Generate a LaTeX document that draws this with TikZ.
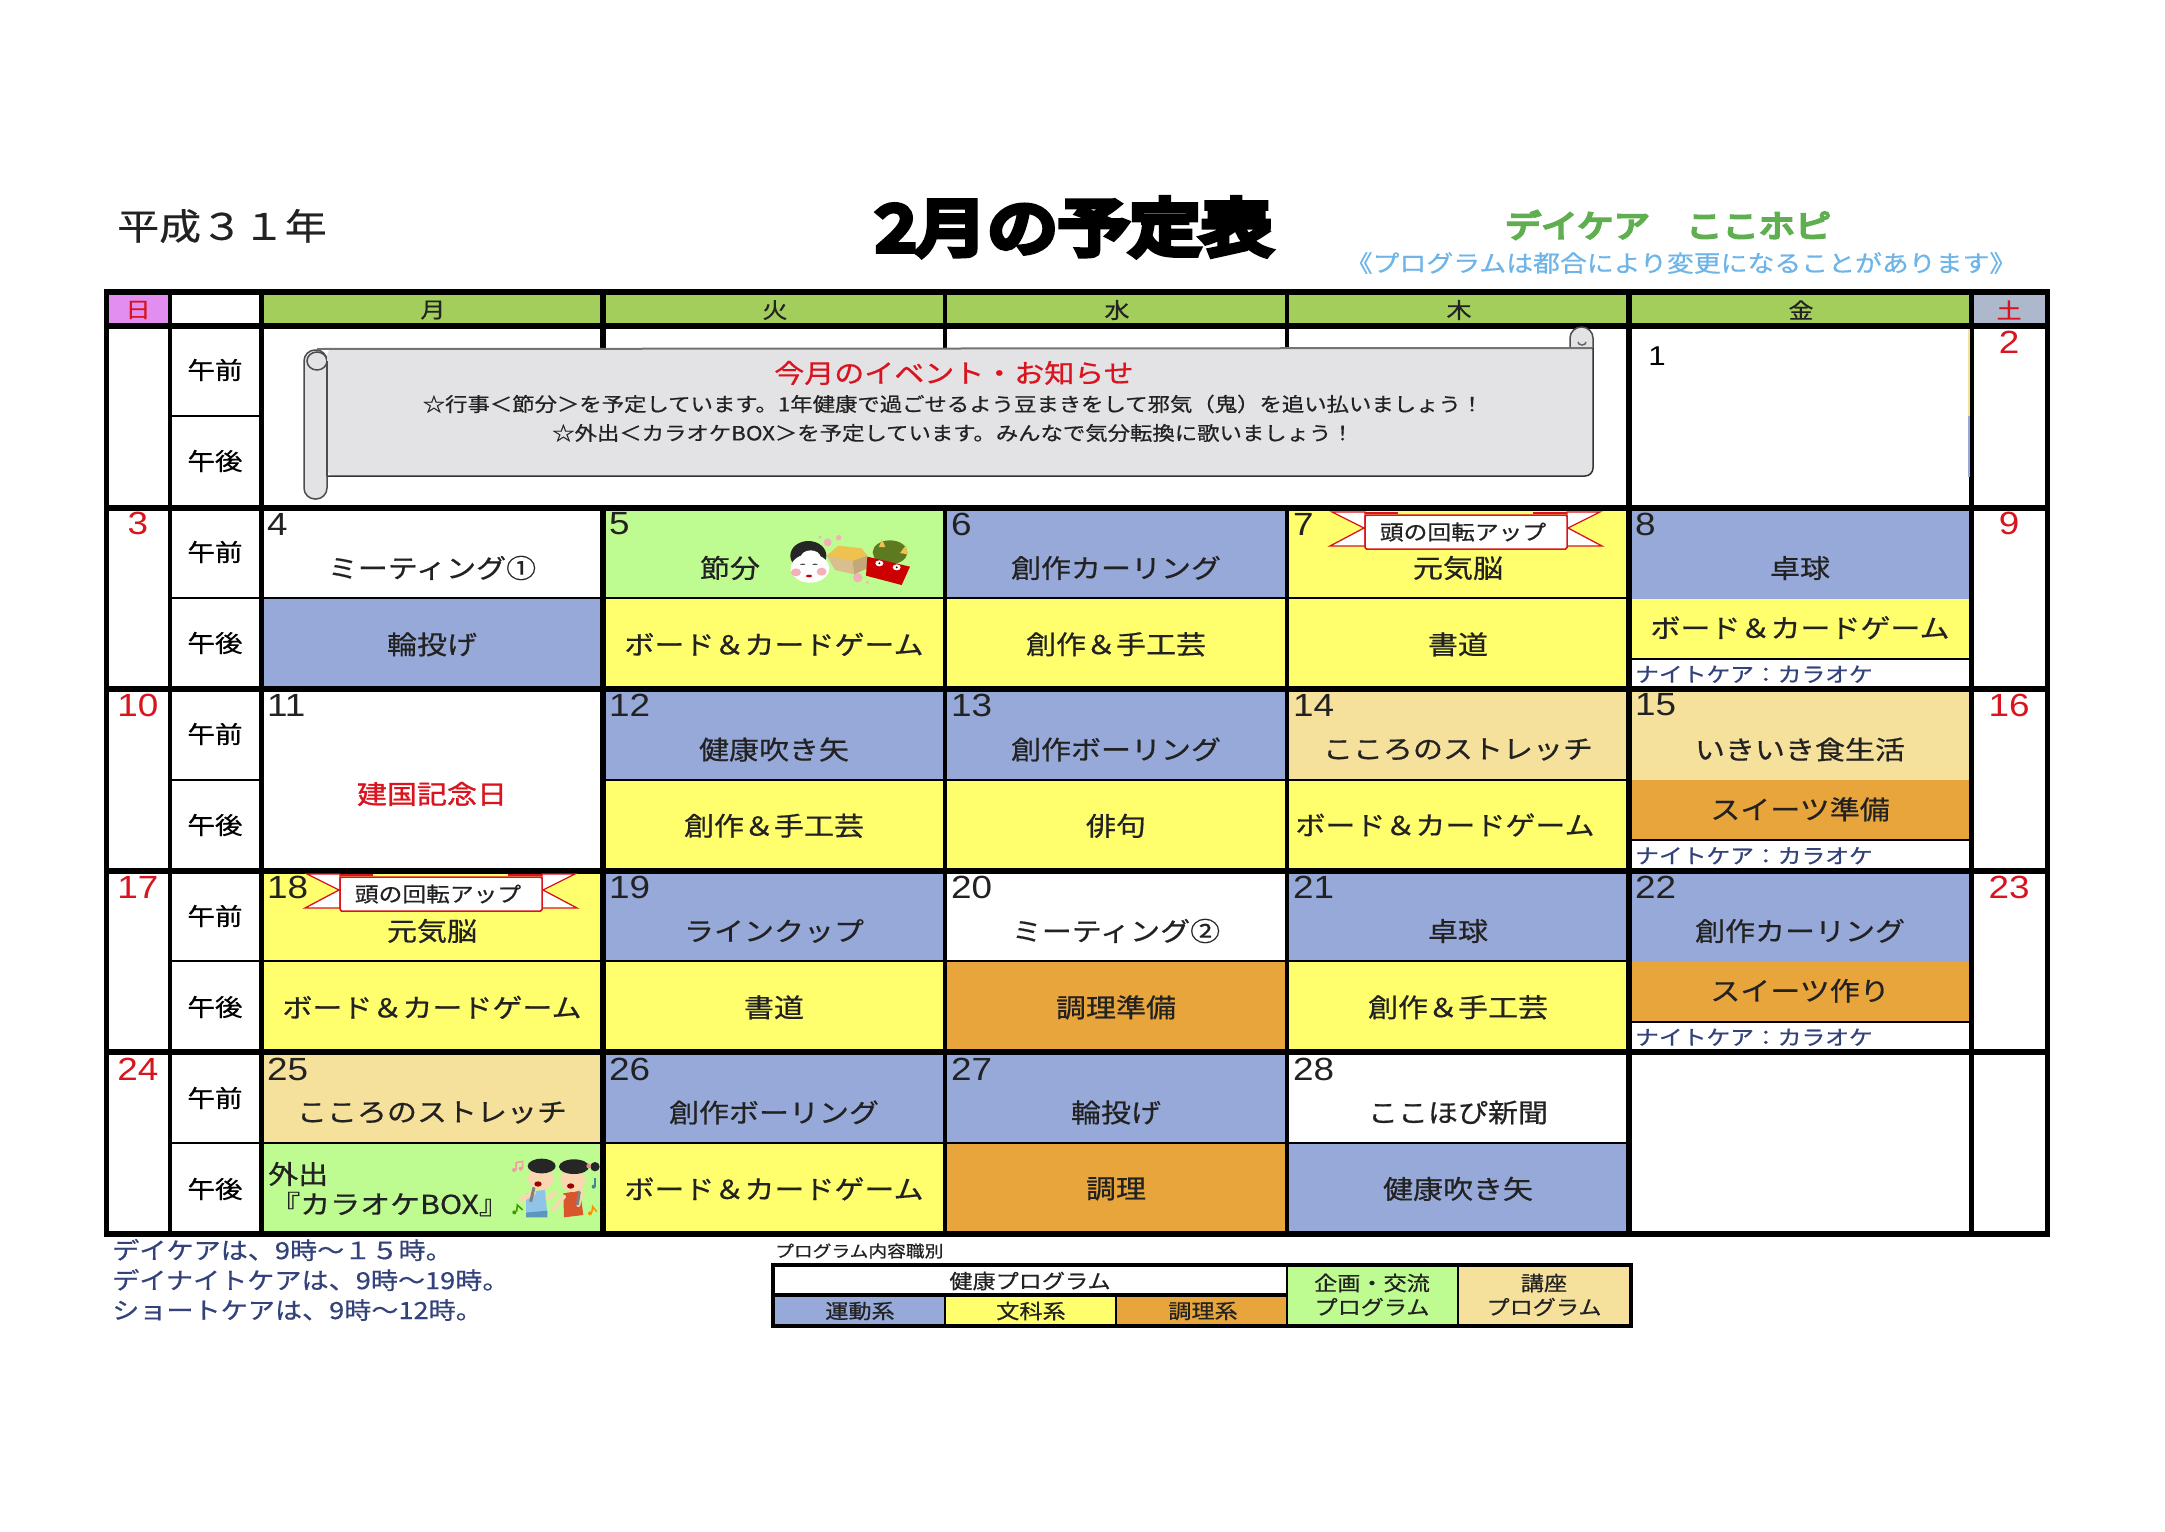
\documentclass[tikz,border=0pt]{standalone}
\usepackage{fontspec}
\setmainfont[FakeStretch=1.15,FakeBold=0.6]{Noto Sans CJK JP}
\newfontfamily\cifras[FakeStretch=1.15]{Liberation Sans}
\newfontfamily\gruesa[FakeStretch=1.15,FakeBold=11]{Noto Sans CJK JP}
\newfontfamily\verdosa[FakeStretch=1.15,FakeBold=7]{Noto Sans CJK JP}
\newfontfamily\media[FakeStretch=1.15,FakeBold=1.2]{Noto Sans CJK JP}
\newcommand{\tam}[1]{\pgfmathsetmacro{\fs}{#1*1.087}\fontsize{\fs}{\fs}\selectfont}
\definecolor{azul}{HTML}{96A9D8}
\definecolor{amarillo}{HTML}{FFFF6E}
\definecolor{naranja}{HTML}{E8A53C}
\definecolor{crema}{HTML}{F5E19C}
\definecolor{verde}{HTML}{BEFB90}
\definecolor{verdecab}{HTML}{A3CE5B}
\definecolor{rosa}{HTML}{E28EF0}
\definecolor{grisab}{HTML}{AEB8CC}
\definecolor{rojo}{HTML}{D9141E}
\definecolor{marino}{HTML}{33427A}
\definecolor{tinta}{HTML}{222222}
\definecolor{rollo}{HTML}{E3E2E4}
\definecolor{piel}{HTML}{FAD7B0}
\definecolor{caja}{HTML}{D9BE8E}
\definecolor{lado}{HTML}{C4A878}
\definecolor{habas}{HTML}{EDC24E}
\definecolor{melena}{HTML}{5E7A20}
\definecolor{flor}{HTML}{F4B0B8}
\definecolor{camisa}{HTML}{8FC4E8}
\definecolor{calzon}{HTML}{5A96BE}
\definecolor{vestido}{HTML}{D9552B}
\definecolor{ciudad}{HTML}{5FAE50}
\definecolor{cielo}{HTML}{6DB4E8}
\tikzset{
  celda/.style={anchor=north west,inner sep=0pt,outer sep=0pt,minimum width=342,minimum height=90.75},
  texto/.style={font=\tam{24},text=tinta,inner sep=0pt},
  franja/.style={font=\tam{19},text=marino,inner sep=0pt,anchor=west},
  numero/.style={font=\cifras\tam{29.5},text=tinta,inner sep=0pt,anchor=west},
  rojizo/.style={font=\cifras\tam{29.5},text=rojo,inner sep=0pt},
  turno/.style={font=\tam{22},text=black,inner sep=0pt},
  cabecera/.style={anchor=north west,inner sep=0pt,outer sep=0pt,minimum height=28},
  nota/.style={font=\tam{21.7},text=marino,inner sep=0pt,anchor=west},
  leyenda/.style={font=\tam{18.5},text=tinta,inner sep=0pt},
  grueso/.style={line width=5.5pt,black},
  fino/.style={line width=1.6pt,black},
}
\begin{document}
\begin{tikzpicture}[x=1pt,y=-1pt]
    \useasboundingbox (0,0) rectangle (2165,1531);
    \fill[white] (0,0) rectangle (2165,1531);

    % Titulos
    \node[font=\tam{33.5},text=tinta,inner sep=0pt] (anio) at (222,226) {平成３１年};
    \node[font=\gruesa\tam{57},inner sep=0pt] (titulo) at (1074,227) {2月の予定表};
    \node[font=\verdosa\tam{29},text=ciudad,inner sep=0pt] (centro) at (1668,225) {デイケア　ここホピ};
    \node[font=\tam{21.5},text=cielo,inner sep=0pt] (aviso) at (1681,263) {《プログラムは都合により変更になることがあります》};

    % Cabecera
    \node[cabecera,fill=rosa,minimum width=61] (cdom) at (107,295) {};
    \node[cabecera,fill=verdecab,minimum width=1710] (clab) at (261,295) {};
    \node[cabecera,fill=grisab,minimum width=75] (csab) at (1971,295) {};
    \node[font=\tam{20},text=rojo,inner sep=0pt] (tdom) at (138,310) {日};
    \node[font=\tam{20},text=rojo,inner sep=0pt] (tsab) at (2009,310) {土};
    \foreach \col/\dia in {0/月,1/火,2/水,3/木,4/金} {
      \pgfmathsetmacro{\cx}{433+342*\col}
      \node[font=\tam{20},text=tinta,inner sep=0pt] (dia\col) at (\cx,310) {\dia};
    }

    % Celdas
    \foreach \col/\fila/\relleno/\txt in {
      0/0/white/ミーティング①, 1/0/verde/, 2/0/azul/創作カーリング, 3/0/amarillo/元気脳, 4/0/azul/卓球,
      0/1/azul/輪投げ, 1/1/amarillo/ボード＆カードゲーム, 2/1/amarillo/創作＆手工芸, 3/1/amarillo/書道,
      1/2/azul/健康吹き矢, 2/2/azul/創作ボーリング, 3/2/crema/こころのストレッチ, 4/2/crema/いきいき食生活,
      1/3/amarillo/創作＆手工芸, 2/3/amarillo/俳句, 3/3/amarillo/,
      0/4/amarillo/元気脳, 1/4/azul/ラインクップ, 2/4/white/ミーティング②, 3/4/azul/卓球, 4/4/azul/創作カーリング,
      0/5/amarillo/ボード＆カードゲーム, 1/5/amarillo/書道, 2/5/naranja/調理準備, 3/5/amarillo/創作＆手工芸,
      0/6/crema/こころのストレッチ, 1/6/azul/創作ボーリング, 2/6/azul/輪投げ, 3/6/white/ここほぴ新聞,
      0/7/verde/, 1/7/amarillo/ボード＆カードゲーム, 2/7/naranja/調理, 3/7/azul/健康吹き矢
    } {
      \pgfmathsetmacro{\cx}{261+342*\col}
      \pgfmathsetmacro{\cy}{508+90.75*\fila}
      \pgfmathsetmacro{\ty}{\cy+(isodd(\fila)?45.6:60)}
      \pgfmathsetmacro{\mx}{\cx+171}
      \node[celda,fill=\relleno] (c\col-\fila) at (\cx,\cy) {};
      \node[texto] (t\col-\fila) at (\mx,\ty) {\txt};
    }
    \node[texto] (setsubun) at (730,568) {節分};
    \node[texto] (juegos) at (1445,825) {ボード＆カードゲーム};
    \node[texto,anchor=west] (salida) at (268,1174) {外出};
    \node[texto,anchor=west] (karaoke) at (270,1204) {『カラオケBOX』};
    \node[font=\media\tam{24},text=rojo,inner sep=0pt] (fiesta) at (432,794) {建国記念日};

    % Viernes por la tarde
    \foreach \fila/\relleno/\txt in {1/amarillo/ボード＆カードゲーム,3/naranja/スイーツ準備,5/naranja/スイーツ作り} {
      \pgfmathsetmacro{\cy}{508+90.75*\fila}
      \pgfmathsetmacro{\ty}{\cy+29}
      \pgfmathsetmacro{\ly}{\cy+75.5}
      \pgfmathsetmacro{\by}{\cy+60}
      \node[celda,fill=\relleno,minimum height=60] (v\fila) at (1629,\cy) {};
      \node[texto] (tv\fila) at (1800,\ty) {\txt};
      \node[franja] (nv\fila) at (1635,\ly) {ナイトケア：カラオケ};
      \draw[fino] (1629,\by) -- (1971,\by);
    }

    % Lineas
    \draw[fino] (170,416) -- (261,416);
    \foreach \y in {598,961,1143} \draw[fino] (170,\y) -- (1629,\y);
    \draw[fino] (170,780) -- (261,780);
    \draw[fino] (603,780) -- (1629,780);
    \foreach \y in {292,326,508,689,871,1052,1234} \draw[grueso] (104,\y) -- (2050,\y);
    \draw[line width=5pt] (106.5,290) -- (106.5,1237);
    \draw[line width=4.5pt] (170,290) -- (170,1237);
    \draw[line width=4.5pt] (261.5,290) -- (261.5,1237);
    \draw[line width=5.5pt] (603,290) -- (603,348) (603,508) -- (603,1237);
    \draw[line width=3.5pt] (945,290) -- (945,348) (945,508) -- (945,1237);
    \draw[line width=4.5pt] (1287,290) -- (1287,348) (1287,508) -- (1287,1237);
    \draw[line width=5.5pt] (1629,290) -- (1629,1237);
    \draw[line width=4.5pt] (1971.5,290) -- (1971.5,1237);
    \draw[line width=5pt] (2047.5,290) -- (2047.5,1237);
    \draw[crema,line width=1.5pt] (1969,329) -- (1969,416);
    \draw[azul,line width=1.5pt] (1969,416) -- (1969,477);

    % Pergamino
    \draw[fill=rollo,draw=black!70,line width=1.5pt,rounded corners=11] (304,350) rectangle (327,499);
    \draw[draw=black!70,line width=1.5pt] (317,361) ellipse (10 and 9);
    \draw[fill=rollo,draw=black!70,line width=1.5pt] (1570,348) -- (1570,338) arc[start angle=180,end angle=360,x radius=11.5,y radius=11] -- (1593,348) -- cycle;
    \draw[draw=black!60,line width=1.5pt] (1578,342) arc[start angle=180,end angle=0,x radius=4,y radius=3];
    \fill[rollo] (327,348) -- (1593,348) [rounded corners=8] -- (1593,476) -- (327,476) -- cycle;
    \draw[draw=black!55,line width=2pt] (317,349) -- (1593,348);
    \draw[draw=black!80,line width=1.5pt] (1593,348) [rounded corners=8] -- (1593,476) -- (327,476);
    \draw[draw=black!70,line width=1.5pt] (327,361) -- (327,476);
    \node[font=\tam{24},text=rojo,inner sep=0pt] (evento) at (954,373) {今月のイベント・お知らせ};
    \node[font=\tam{17.9},text=tinta,inner sep=0pt] (aviso1) at (953,404) {☆行事＜節分＞を予定しています。1年健康で過ごせるよう豆まきをして邪気（鬼）を追い払いましょう！};
    \node[font=\tam{17.9},text=tinta,inner sep=0pt] (aviso2) at (953,433) {☆外出＜カラオケBOX＞を予定しています。みんなで気分転換に歌いましょう！};

    % Numeros
    \node[font=\cifras\tam{25},text=black,inner sep=0pt] (uno) at (1657,356) {1};
    \foreach \n/\col/\y in {4/0/524,5/1/524,6/2/524,7/3/524,8/4/524,
                            11/0/705,12/1/705,13/2/705,14/3/705,15/4/705,
                            18/0/887,19/1/887,20/2/887,21/3/887,22/4/887,
                            25/0/1069,26/1/1069,27/2/1069,28/3/1069} {
      \pgfmathsetmacro{\cx}{267+342*\col}
      \node[numero] (n\n) at (\cx,\y) {\n};
    }
    \foreach \n/\x/\y in {2/2009/342,3/138/523,9/2009/523,10/138/705,16/2009/705,17/138/887,23/2009/887,24/138/1069} {
      \node[rojizo] (r\n) at (\x,\y) {\n};
    }

    % Manana y tarde
    \node[turno] (am0) at (215,370) {午前};
    \node[turno] (pm0) at (215,461) {午後};
    \foreach \s in {0,1,2,3} {
      \pgfmathsetmacro{\ya}{552+182*\s}
      \pgfmathsetmacro{\yb}{643+182*\s}
      \node[turno] (am\s-s) at (215,\ya) {午前};
      \node[turno] (pm\s-s) at (215,\yb) {午後};
    }

    % Cintas
    \foreach \cx/\cy/\nom in {1365/515/a,340/877/b} {
      \begin{scope}[shift={(\cx,\cy)}]
        \draw[fill=white,draw=rojo,line width=1.3pt] (0,-3) -- (-33,-3) -- (-1,13) -- (-35,31) -- (0,31) -- cycle;
        \draw[fill=white,draw=rojo,line width=1.3pt] (202,-3) -- (235,-3) -- (203,13) -- (237,31) -- (202,31) -- cycle;
        \fill[rojo] (0,-3) rectangle (33,-1);
        \fill[rojo] (168,-3) rectangle (202,-1);
        \draw[fill=white,draw=rojo,line width=1.5pt,rounded corners=1.5] (0,0) rectangle (202,34);
        \node[font=\tam{19},text=tinta,inner sep=0pt] (cinta\nom) at (98,17) {頭の回転アップ};
      \end{scope}
    }

    % Setsubun
    \begin{scope}[shift={(780,525)},scale=1/3]
      \fill[black!85] (85,92) ellipse (54 and 44);
      \fill[white] (90,130) ellipse (58 and 43);
      \fill[white] (92,98) ellipse (30 and 22);
      \fill[flor] (48,142) ellipse (15 and 12);
      \fill[flor] (125,140) ellipse (15 and 12);
      \fill[red!80!black] (87,153) ellipse (9 and 4);
      \fill[black!70] (68,118) ellipse (8 and 2);
      \fill[black!70] (105,118) ellipse (8 and 2);
      \fill[flor] (143,52) circle (12);
      \fill[flor] (176,38) circle (8);
      \fill[flor] (120,36) circle (5);
      \fill[flor] (233,158) circle (14);
      \fill[flor] (262,172) circle (4);
      \fill[habas] (140,92) -- (175,62) -- (245,70) -- (262,92) -- (215,110) -- cycle;
      \fill[caja] (140,92) -- (218,108) -- (222,148) -- (165,135) -- cycle;
      \fill[lado] (218,108) -- (262,92) -- (262,130) -- (222,148) -- cycle;
      \fill[melena] (330,82) ellipse (52 and 36);
      \fill[habas] (297,66) -- (306,42) -- (316,66) -- cycle;
      \fill[habas] (360,84) -- (378,60) -- (382,88) -- cycle;
      \fill[red!80!black] (262,95) -- (390,125) -- (365,180) -- (258,152) -- cycle;
      \fill[white] (298,115) ellipse (12 and 9);
      \fill[white] (350,127) ellipse (12 and 9);
      \fill[black] (298,115) circle (3);
      \fill[black] (350,127) circle (3);
    \end{scope}

    % Karaoke
    \begin{scope}[shift={(500,1150)},scale=1/3]
      \draw[pink!80!purple,line width=1.5pt] (48,60) -- (48,38) -- (68,34) -- (68,56);
      \fill[pink!80!purple] (42,60) circle (6);
      \fill[pink!80!purple] (62,56) circle (6);
      \draw[green!50!black!80!yellow,line width=1.5pt] (50,185) -- (52,165) -- (68,180);
      \fill[green!50!black!80!yellow] (43,187) circle (6);
      \draw[cyan!60!black,line width=1.5pt] (285,110) -- (285,85);
      \fill[cyan!60!black] (281,110) circle (6);
      \draw[orange!90!yellow,line width=1.5pt] (275,188) -- (278,170) -- (290,185);
      \fill[orange!90!yellow] (270,190) circle (6);
      % chico
      \fill[camisa] (78,130) -- (135,118) -- (142,192) -- (78,200) -- cycle;
      \fill[calzon] (78,188) -- (142,182) -- (142,202) -- (78,202) -- cycle;
      \draw[piel,line cap=round,line width=5pt] (65,148) -- (100,128);
      \draw[piel,line cap=round,line width=4pt] (142,145) -- (165,130);
      \fill[piel] (122,85) ellipse (38 and 36);
      \fill[black!85] (125,48) ellipse (42 and 22);
      \fill[red!60!black] (114,102) ellipse (11 and 8);
      \draw[gray,line width=3pt] (102,112) -- (92,155);
      % chica
      \fill[vestido] (190,130) -- (240,122) -- (250,195) -- (192,202) -- cycle;
      \draw[piel,line cap=round,line width=4pt] (160,178) -- (192,140);
      \draw[piel,line cap=round,line width=4pt] (235,165) -- (245,125);
      \fill[piel] (218,90) ellipse (37 and 36);
      \fill[black!85] (222,50) ellipse (45 and 22);
      \fill[black!85] (285,50) circle (14);
      \fill[pink!70!purple] (266,48) circle (7);
      \fill[red!60!black] (212,108) ellipse (11 and 8);
      \draw[gray,line width=3pt] (238,125) -- (232,165);
    \end{scope}

    % Pie
    \node[nota] (pie1) at (112,1250) {デイケアは、9時～１５時。};
    \node[nota] (pie2) at (112,1280) {デイナイトケアは、9時～19時。};
    \node[nota] (pie3) at (112,1310) {ショートケアは、9時～12時。};

    % Leyenda
    \node[font=\tam{15},text=tinta,inner sep=0pt,anchor=west] (leytit) at (775,1251) {プログラム内容職別};
    \fill[white] (772,1264) rectangle (1287,1295);
    \fill[azul] (772,1295) rectangle (945,1325);
    \fill[amarillo] (945,1295) rectangle (1116,1325);
    \fill[naranja] (1116,1295) rectangle (1287,1325);
    \fill[verde] (1287,1264) rectangle (1458,1325);
    \fill[crema] (1458,1264) rectangle (1631,1325);
    \draw[line width=4.5pt] (773,1265) rectangle (1631,1326);
    \draw[line width=3.5pt] (773,1295) -- (1287,1295);
    \draw[line width=2pt] (945,1295) -- (945,1326);
    \draw[line width=2pt] (1116,1295) -- (1116,1326);
    \draw[line width=2pt] (1287,1265) -- (1287,1326);
    \draw[line width=2.5pt] (1458,1265) -- (1458,1326);
    \node[leyenda] (ley0) at (1030,1281) {健康プログラム};
    \node[leyenda] (ley1) at (860,1311) {運動系};
    \node[leyenda] (ley2) at (1031,1311) {文科系};
    \node[leyenda] (ley3) at (1203,1311) {調理系};
    \node[leyenda] (ley4) at (1372,1283) {企画・交流};
    \node[leyenda] (ley5) at (1372,1307) {プログラム};
    \node[leyenda] (ley6) at (1544,1283) {講座};
    \node[leyenda] (ley7) at (1544,1307) {プログラム};
\end{tikzpicture}
\end{document}
